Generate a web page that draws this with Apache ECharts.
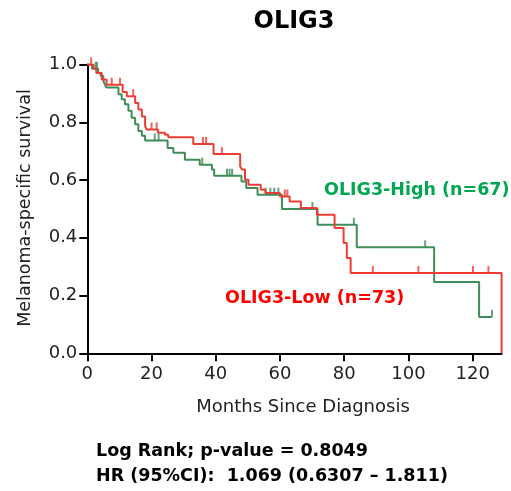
<!DOCTYPE html>
<html>
<head>
<meta charset="utf-8">
<script src="https://cdn.jsdelivr.net/npm/echarts@6/dist/echarts.min.js"></script>
<style>
html,body{margin:0;padding:0;background:#fff;}
#chart{width:511px;height:491px;}
</style>
</head>
<body>
<div id="chart"></div>
<script>
// ---- data ----
const highTimes = [0, 1.5, 3.4, 4.2, 5.0, 5.5, 6.0, 9.7, 10.7, 11.7, 12.8, 13.8, 14.9, 15.9, 17.0, 18.0, 25.0, 26.8, 30.4, 35.0, 38.8, 39.5, 48.0, 49.5, 53.0, 60.6, 71.7, 83.9, 108.0, 122.0, 126.0];
const highSurv  = [1.0, 0.985, 0.97, 0.96, 0.943, 0.93, 0.92, 0.897, 0.88, 0.862, 0.84, 0.816, 0.793, 0.77, 0.753, 0.737, 0.711, 0.694, 0.67, 0.653, 0.636, 0.615, 0.595, 0.572, 0.549, 0.50, 0.445, 0.367, 0.247, 0.126, 0.126];
const highCensor = [2.6, 3.0, 21.0, 22.2, 35.8, 43.5, 44.3, 45.1, 55.5, 57.0, 58.2, 59.5, 70.1, 83.0, 105.2, 126.0];

const lowTimes = [0, 1.9, 2.8, 4.5, 6.0, 11.0, 12.3, 14.9, 15.9, 17.0, 18.0, 18.5, 22.0, 24.2, 25.2, 33.0, 39.3, 47.6, 48.2, 49.1, 50.2, 54.0, 55.5, 60.0, 63.0, 66.5, 71.5, 77.0, 79.8, 80.8, 82.0, 129.0];
const lowSurv  = [1.0, 0.986, 0.971, 0.948, 0.93, 0.905, 0.89, 0.867, 0.844, 0.82, 0.786, 0.775, 0.764, 0.757, 0.748, 0.725, 0.69, 0.647, 0.636, 0.601, 0.584, 0.566, 0.555, 0.543, 0.526, 0.503, 0.48, 0.434, 0.382, 0.33, 0.278, 0];
const lowCensor = [1.2, 7.6, 10.2, 14.3, 20.0, 21.6, 36.0, 37.0, 41.9, 61.5, 62.3, 88.9, 103.1, 120.1, 124.9];

const xMin = 0, xMax = 129, xStep = 20;
const yMin = 0, yMax = 1, yStep = 0.2;

const titleText = 'OLIG3';
const highLabel = 'OLIG3-High (n=67)';
const lowLabel = 'OLIG3-Low (n=73)';
const xName = 'Months Since Diagnosis';
const yName = 'Melanoma-specific survival';
const stat1 = 'Log Rank; p-value = 0.8049';
const stat2 = 'HR (95%CI):  1.069 (0.6307 \u2013 1.811)';

// ---- helpers ----
function pairs(ts, ss){ return ts.map((t,i)=>[t, ss[i]]); }
function stepAt(ts, ss, t){ let v = ss[0]; for (let i=0;i<ts.length;i++){ if (ts[i] <= t) v = ss[i]; } return v; }

const GREEN = '#3f8c57';
const RED = '#ec3d35';
const FONT = 'DejaVu Sans';

const chart = echarts.init(document.getElementById('chart'));
chart.setOption({
  animation: false,
  backgroundColor: '#fff',
  title: {
    text: titleText, left: 289, top: 5, textAlign: 'center',
    textStyle: {fontFamily: FONT, fontWeight: 'bold', fontSize: 24, color: '#000'}
  },
  grid: {left: 87.3, top: 64.5, right: 9.4, bottom: 137.7, containLabel: false},
  xAxis: {
    type: 'value', min: xMin, max: xMax, interval: xStep,
    splitLine: {show: false},
    axisLine: {onZero: false, lineStyle: {color: '#000', width: 2}},
    axisTick: {length: 8, lineStyle: {color: '#000', width: 2}},
    axisLabel: {fontFamily: FONT, fontSize: 18, color: '#222', margin: 12, showMaxLabel: false,
      formatter: v => (v % xStep === 0 ? String(v) : '')}
  },
  yAxis: {
    type: 'value', min: yMin, max: yMax, interval: yStep,
    splitLine: {show: false},
    axisLine: {onZero: false, lineStyle: {color: '#000', width: 2}},
    axisTick: {length: 8, lineStyle: {color: '#000', width: 2}},
    axisLabel: {fontFamily: FONT, fontSize: 18, color: '#222', margin: 10, formatter: v => v.toFixed(1)}
  },
  series: [
    {type: 'line', step: 'end', data: pairs(highTimes, highSurv), showSymbol: false,
     lineStyle: {color: GREEN, width: 2}, itemStyle: {color: GREEN}, z: 2},
    {type: 'scatter', data: highCensor.map(t => [t, stepAt(highTimes, highSurv, t)]),
     symbol: 'rect', symbolSize: [2, 7], symbolOffset: [0, -3.5], itemStyle: {color: GREEN}, z: 2},
    {type: 'line', step: 'end', data: pairs(lowTimes, lowSurv), showSymbol: false,
     lineStyle: {color: RED, width: 2}, itemStyle: {color: RED}, z: 3},
    {type: 'scatter', data: lowCensor.map(t => [t, stepAt(lowTimes, lowSurv, t)]),
     symbol: 'rect', symbolSize: [2, 7], symbolOffset: [0, -3.5], itemStyle: {color: RED}, z: 3}
  ],
  graphic: [
    {type: 'text', left: 324, top: 181, style: {text: highLabel, fill: '#00a650', font: 'bold 17.5px "DejaVu Sans"'}},
    {type: 'text', left: 225, top: 289, style: {text: lowLabel, fill: '#ff0000', font: 'bold 17.5px "DejaVu Sans"'}},
    {type: 'text', x: 303, y: 407, style: {text: xName, fill: '#222', font: '18px "DejaVu Sans"', align: 'center', verticalAlign: 'middle'}},
    {type: 'text', x: 25, y: 208, rotation: Math.PI/2, style: {text: yName, fill: '#222', font: '17.5px "DejaVu Sans"', align: 'center', verticalAlign: 'middle'}},
    {type: 'text', x: 96, y: 451, style: {text: stat1, fill: '#000', font: 'bold 17.5px "DejaVu Sans"', verticalAlign: 'middle'}},
    {type: 'text', x: 96, y: 476, style: {text: stat2, fill: '#000', font: 'bold 17.5px "DejaVu Sans"', verticalAlign: 'middle'}}
  ]
});
</script>
</body>
</html>
